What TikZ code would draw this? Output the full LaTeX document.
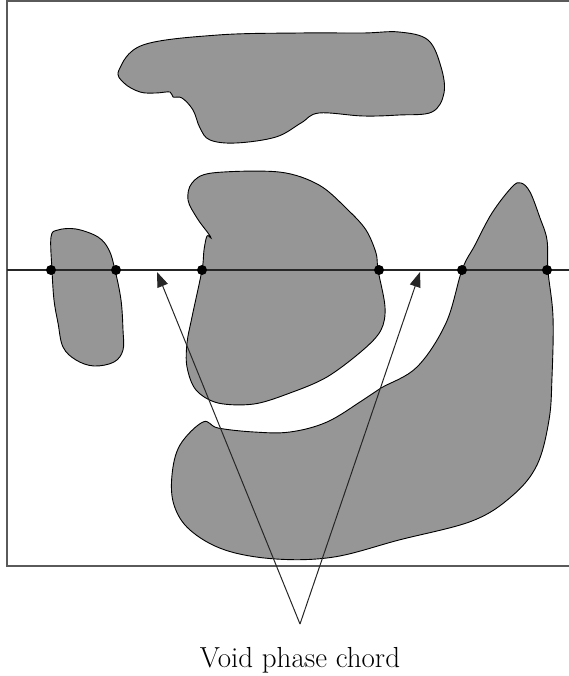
\documentclass[tikz,border=0pt]{standalone}
\usetikzlibrary{arrows.meta}
\definecolor{phase}{RGB}{150,150,150}
\definecolor{framec}{RGB}{90,90,90}
\tikzset{
  blob/.style={fill=phase, draw=black, line width=0.9pt},
  chordline/.style={draw=black!85, line width=2pt},
  hit/.style={circle, fill=black, inner sep=0pt, minimum size=10pt},
  pointer/.style={draw=black!85, line width=1pt, -{Triangle[length=15pt,width=11pt]}},
  framebox/.style={draw=framec, line width=1.3pt}
}
\begin{document}
\begin{tikzpicture}[x=1pt,y=-1pt]
\useasboundingbox (0,0) rectangle (569,676);
\clip (0,0) rectangle (569,676);
\draw[framebox] (7,1) rectangle (575,566);

% top blob
\draw[blob] plot[smooth cycle, tension=0.6] coordinates {
 (119,70) (143,45) (218,35) (300,33) (363,33) (399,32) (428,40) (441,67) (444,93)
 (432,112) (399,115) (363,116) (319,113) (301,123) (276,137) (236,143) (210,140)
 (200,128) (193,110) (182,98) (173,97) (170,92) (156,93) (140,92) (124,83)};

% small left blob
\draw[blob] plot[smooth cycle, tension=0.6] coordinates {
 (51,237) (58,230) (76,229) (98,237) (109,250) (115,270) (121,300) (123,330)
 (123,350) (114,362) (94,366) (76,360) (63,347) (58,323) (54,300) (52,270)};

% central blob
\draw[blob] plot[smooth cycle, tension=0.55] coordinates {
 (192,183) (212,173) (279,172) (319,185) (348,210) (366,230) (376,253) (378,270)
 (385,307) (381,330) (363,350) (327,377) (290,393) (254,404) (218,403) (196,390)
 (187,367) (187,343) (192,317) (202,270) (204,250) (207,236) (211,238) (208,233) (197,218) (188,200)};

% right / bottom blob
\draw[blob] plot[smooth cycle, tension=0.6] coordinates {
 (462,270) (475,245) (492,213) (512,187) (521,183) (530,192) (540,218) (547,240) (548,271)
 (553,317) (552,377) (549,420) (537,465) (512,496) (472,521) (399,540) (334,557)
 (276,559) (225,550) (190,530) (174,505) (172,475) (180,445) (203,422) (218,428)
 (254,432) (290,432) (327,422) (363,400) (381,388) (417,367) (446,323)};

% chord line
\coordinate (lineL) at (7,270);
\coordinate (lineR) at (575,270);
\draw[chordline] (lineL) -- (lineR);
\foreach \n/\x in {h1/51,h2/116,h3/202,h4/379,h5/462,h6/547}{
  \node[hit] (\n) at (\x,270) {};
}

% pointers
\coordinate (apex) at (300,624);
\coordinate (tipL) at (157,272);
\coordinate (tipR) at (420,272);
\draw[pointer] (apex) -- (tipL);
\draw[pointer] (apex) -- (tipR);

\node[font=\fontsize{29}{34}\selectfont, anchor=base] (label) at (300,667) {Void phase chord};
\end{tikzpicture}
\end{document}
